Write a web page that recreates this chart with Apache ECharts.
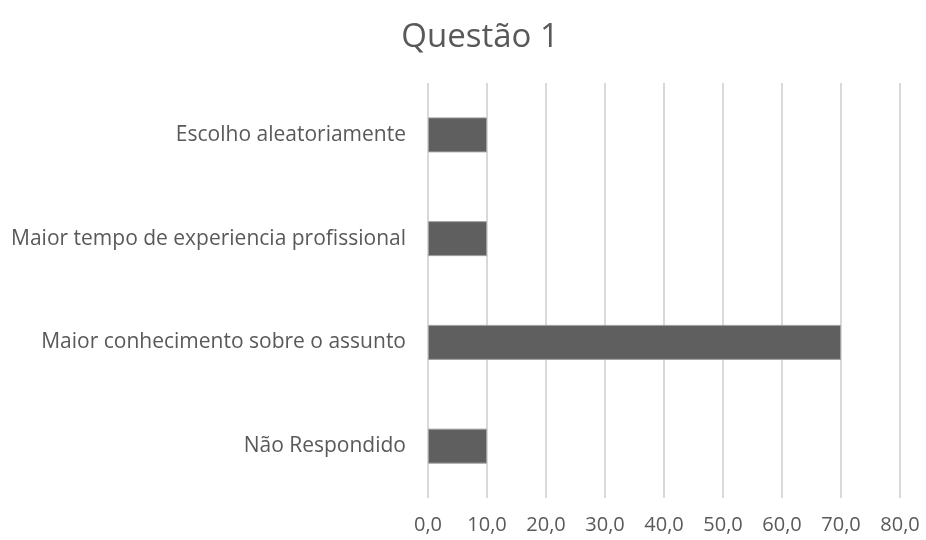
<!DOCTYPE html>
<html>
<head>
<meta charset="utf-8">
<script src="https://cdn.jsdelivr.net/npm/echarts@6/dist/echarts.min.js"></script>
<style>
  html, body { margin: 0; padding: 0; background: #fff; }
  #chart { width: 926px; height: 540px; }
</style>
</head>
<body>
<div id="chart"></div>
<script>
var categories = ['Não Respondido', 'Maior conhecimento sobre o assunto', 'Maior tempo de experiencia profissional', 'Escolho aleatoriamente'];
var values = [10, 70, 10, 10];

var chart = echarts.init(document.getElementById('chart'));

var option = {
    animation: false,
    title: {
        text: 'Questão 1',
        left: 475,
        top: 16,
        textAlign: 'center',
        textStyle: {
            fontFamily: 'Open Sans',
            fontWeight: 'normal',
            fontSize: 33,
            color: '#595959'
        }
    },
    grid: {
        left: 428,
        right: 26,
        top: 83,
        bottom: 42
    },
    xAxis: {
        type: 'value',
        min: 0,
        max: 80,
        interval: 10,
        axisLine: { show: false },
        axisTick: { show: false },
        splitLine: { lineStyle: { color: '#d9d9d9', width: 2 } },
        axisLabel: {
            margin: 17,
            fontFamily: 'Open Sans',
            fontSize: 20,
            color: '#595959',
            formatter: function (v) { return v.toFixed(1).replace('.', ','); }
        }
    },
    yAxis: {
        type: 'category',
        data: categories,
        axisLine: { show: false },
        axisTick: { show: false },
        axisLabel: {
            margin: 22,
            fontFamily: 'Open Sans',
            fontSize: 21,
            color: '#595959'
        }
    },
    series: [
        {
            type: 'bar',
            data: values,
            barWidth: 35,
            itemStyle: {
                color: '#5f5f5f',
                borderColor: '#a0a0a0',
                borderWidth: 1
            }
        }
    ]
};
chart.setOption(option);
</script>
</body>
</html>
